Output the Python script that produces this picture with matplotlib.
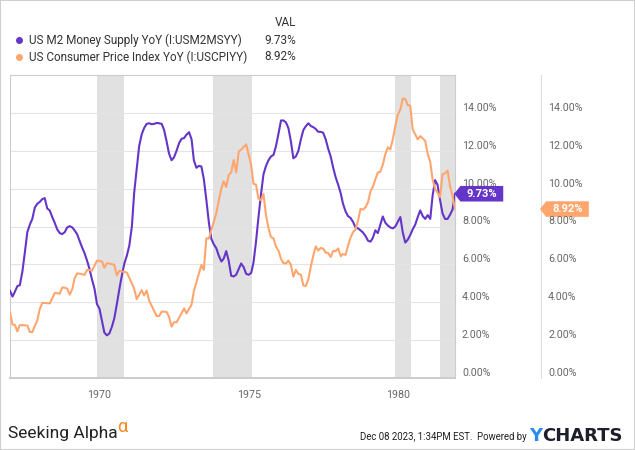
import matplotlib
matplotlib.use('Agg')
import matplotlib.pyplot as plt
import matplotlib.dates as mdates
from matplotlib.path import Path
from matplotlib.lines import Line2D
from matplotlib.patches import Rectangle
import pandas as pd

# monthly data, Jan 1967 .. Dec 1981
months = pd.date_range('1967-01-01', '1981-12-01', freq='MS')

m2_yoy = [
    4.6, 4.3, 4.55, 4.85, 4.9, 5.6, 6.6, 7.7, 8.1, 8.4, 9.0, 9.2,            # 1967
    9.3, 9.45, 9.5, 8.95, 8.85, 8.5, 8.2, 7.85, 7.65, 7.6, 7.7, 7.95,        # 1968
    8.02, 7.95, 7.8, 7.6, 7.25, 6.9, 6.6, 6.2, 5.75, 5.2, 4.7, 3.9,          # 1969
    3.65, 3.0, 2.4, 2.25, 2.35, 2.7, 3.15, 3.9, 4.7, 5.4, 6.05, 6.45,        # 1970
    7.0, 8.0, 9.77, 11.0, 12.24, 12.86, 13.2, 13.42, 13.45, 13.4, 13.42, 13.47,  # 1971
    13.45, 13.42, 13.1, 12.5, 11.85, 11.5, 11.65, 12.0, 12.4, 12.63, 12.67, 12.85,  # 1972
    12.98, 12.6, 11.5, 11.1, 11.2, 11.17, 10.5, 9.4, 8.2, 7.35, 7.05, 6.85,  # 1973
    6.45, 6.15, 6.3, 6.7, 6.2, 5.4, 5.36, 5.45, 5.75, 6.05, 5.85, 5.5,       # 1974
    5.45, 5.55, 6.1, 7.2, 8.5, 9.7, 10.75, 11.2, 11.5, 11.7, 11.78, 12.24,   # 1975
    12.9, 13.6, 13.6, 13.5, 13.2, 12.5, 11.6, 11.7, 12.0, 12.6, 13.1, 13.3,  # 1976
    13.45, 13.3, 13.25, 13.15, 13.0, 13.0, 12.95, 12.6, 12.1, 11.7, 11.1, 10.6,  # 1977
    10.2, 9.75, 9.2, 8.8, 8.55, 8.45, 8.25, 7.95, 7.9, 7.8, 7.68, 7.5,       # 1978
    7.25, 7.2, 7.4, 7.8, 7.65, 8.1, 8.53, 8.2, 8.05, 7.95, 7.9, 8.0,         # 1979
    8.25, 8.5, 7.7, 7.15, 7.3, 7.55, 7.85, 8.1, 8.5, 8.85, 8.55, 8.4,        # 1980
    8.6, 8.4, 9.6, 10.45, 10.2, 9.4, 8.7, 8.4, 8.4, 8.62, 8.9, 9.73,         # 1981
]

cpi_yoy = [
    3.46, 2.81, 2.81, 2.46, 2.79, 2.79, 2.78, 2.77, 2.43, 2.42, 2.75, 3.04,  # 1967
    3.65, 3.97, 3.96, 3.95, 3.94, 4.20, 4.49, 4.48, 4.45, 4.78, 4.77, 4.72,  # 1968
    4.40, 4.68, 5.25, 5.52, 5.51, 5.48, 5.44, 5.71, 5.70, 5.67, 5.93, 6.20,  # 1969
    6.18, 6.15, 5.82, 6.06, 6.04, 6.01, 5.98, 5.41, 5.66, 5.63, 5.60, 5.57,  # 1970
    5.29, 5.00, 4.71, 4.16, 4.40, 4.64, 4.36, 4.62, 4.08, 3.81, 3.54, 3.27,  # 1971
    3.27, 3.51, 3.50, 3.49, 3.23, 2.71, 2.95, 2.94, 3.19, 3.42, 3.67, 3.41,  # 1972
    3.65, 3.87, 4.59, 5.06, 5.53, 5.97, 5.71, 7.38, 7.36, 7.80, 8.25, 8.71,  # 1973
    9.39, 10.02, 10.39, 10.09, 10.71, 10.86, 11.51, 10.86, 11.95, 12.06, 12.20, 12.34,  # 1974
    11.80, 11.23, 10.25, 10.21, 9.47, 9.39, 9.72, 8.60, 7.91, 7.44, 7.38, 6.94,  # 1975
    6.72, 6.29, 6.07, 6.05, 6.20, 5.97, 5.35, 5.71, 5.49, 5.46, 4.88, 4.86,  # 1976
    5.22, 5.91, 6.44, 6.95, 6.73, 6.87, 6.83, 6.62, 6.60, 6.39, 6.72, 6.70,  # 1977
    6.84, 6.43, 6.55, 6.50, 6.97, 7.41, 7.70, 7.84, 8.31, 8.93, 8.89, 9.02,  # 1978
    9.28, 9.86, 10.09, 10.49, 10.85, 10.89, 11.26, 11.82, 12.18, 12.07, 12.61, 13.29,  # 1979
    13.91, 14.18, 14.76, 14.73, 14.41, 14.38, 13.13, 12.87, 12.60, 12.77, 12.65, 12.52,  # 1980
    11.83, 11.41, 10.49, 10.00, 9.78, 9.55, 10.76, 10.80, 10.95, 10.14, 9.59, 8.92,  # 1981
]

recessions = [('1969-12-01', '1970-11-01'), ('1973-10-16', '1975-02-16'),
              ('1979-12-01', '1980-06-06'), ('1981-06-01', '1981-12-01')]

names = ['US M2 Money Supply YoY (I:USM2MSYY)', 'US Consumer Price Index YoY (I:USCPIYY)']
last_vals = [9.73, 8.92]
yticks = [0, 2, 4, 6, 8, 10, 12, 14]

PURPLE = '#6535c9'
ORANGE = '#ffa66e'
W, H = 635, 450

plt.rcParams['font.family'] = ['Roboto', 'DejaVu Sans']

fig = plt.figure(figsize=(W / 100, H / 100), dpi=100)


def px(x, y):
    return x / W, 1 - y / H


ax = fig.add_axes([10 / W, 72 / H, 445 / W, 303 / H])
ax2 = ax.twinx()

for s in ax.spines.values():
    s.set_color('#cccccc')
    s.set_linewidth(0.8)
ax.spines['bottom'].set_linewidth(1.4)

for a, b in recessions:
    ax.axvspan(pd.Timestamp(a), pd.Timestamp(b), color='#e1e1e1', lw=0, zorder=0)

ax.plot(months, m2_yoy, color=PURPLE, lw=1.5, zorder=3)
ax.plot(months, cpi_yoy, color=ORANGE, lw=1.5, zorder=3)

ax.set_xlim(months[0], months[-1])
ax.set_ylim(0, 16)
ax.xaxis.set_major_locator(mdates.YearLocator(5))
ax.xaxis.set_major_formatter(mdates.DateFormatter('%Y'))
ax.tick_params(axis='x', length=0, pad=9, labelsize=7.7, labelcolor='#666666')

ytl = [f'{v:.2f}%' for v in yticks]
ax.set_yticks(yticks)
ax.set_yticklabels(ytl)
ax.yaxis.tick_right()
ax.tick_params(axis='y', length=0, pad=5, labelsize=7.7, labelcolor='#666666',
               left=False, labelleft=False, right=False, labelright=True)
ax.grid(axis='y', color='#e4e4e4', lw=0.8, zorder=1)
ax.set_axisbelow(True)

ax2.set_ylim(0, 16)
ax2.set_yticks(yticks)
ax2.set_yticklabels(ytl)
ax2.tick_params(axis='y', length=0, pad=67, labelsize=7.7, labelcolor='#666666')
for s in ax2.spines.values():
    s.set_visible(False)

for lab in ax.get_yticklabels() + ax2.get_yticklabels():
    lab.set_va('bottom')

# separator between the two value columns
sep_x = (540.7 - 10) / 445
ax.plot([sep_x, sep_x], [0, 16], transform=ax.get_yaxis_transform(),
        clip_on=False, color='#dddddd', lw=0.8)


def tag_box(x0, y0, width, height, mutation_size):
    padx = 0.55 * mutation_size
    cy = y0 + height / 2
    hh = 0.7 * mutation_size
    tip = 0.55 * mutation_size
    l, r = x0 - padx, x0 + width + padx
    return Path([(l - tip, cy), (l, cy - hh), (r, cy - hh), (r, cy + hh),
                 (l, cy + hh), (l - tip, cy)], closed=True)


for xpos, val, col in [(1.0, last_vals[0], PURPLE), (sep_x, last_vals[1], ORANGE)]:
    ax.annotate(f'{val:.2f}%', xy=(xpos, val), xycoords=ax.get_yaxis_transform(),
                xytext=(11.5, 0), textcoords='offset pixels', ha='left', va='center',
                fontsize=8, fontweight='bold', color='white', annotation_clip=False,
                bbox=dict(boxstyle=tag_box, fc=col, ec='none'), zorder=5)

# legend
fig.text(*px(296, 22.5), 'VAL', ha='right', va='center', fontsize=8.5, color='#333333')
for i, (name, val, col) in enumerate(zip(names, last_vals, [PURPLE, ORANGE])):
    y = 40 + i * 17
    fig.add_artist(Line2D([px(19, y)[0]], [px(19, y)[1]], marker='o', ms=4,
                          color=col, transform=fig.transFigure))
    fig.text(*px(29, y), name, ha='left', va='center', fontsize=8.5, color='#333333')
    fig.text(*px(296, y), f'{val:.2f}%', ha='right', va='center', fontsize=8.5,
             color='#333333')

# footer
sa = fig.text(*px(8, 438), 'Seeking Alpha', ha='left', va='baseline', fontsize=12.5,
              color='#222222')
fig.add_artist(matplotlib.text.Annotation('\u03b1', xy=(1.0, 0.62), xycoords=sa,
                                          ha='left', va='baseline', fontsize=13,
                                          color='#f58a1f'))
fig.text(*px(527, 440), 'Dec 08 2023, 1:34PM EST.  Powered by', ha='right',
         va='baseline', fontsize=6.9, color='#222222')
yt = fig.text(*px(529, 441), 'Y', ha='left', va='baseline', fontsize=13,
              fontweight='bold', color='#2a8cf0', family='DejaVu Sans')
fig.add_artist(matplotlib.text.Annotation('CHARTS', xy=(1.0, 0), xycoords=yt,
                                          ha='left', va='bottom', fontsize=13,
                                          fontweight='bold', color='#1d1d2b',
                                          family='DejaVu Sans'))

fig.add_artist(Rectangle((0, 0), 1, 1, transform=fig.transFigure, fill=False,
                         ec='#cfcfcf', lw=1.5))

fig.savefig('out.png', dpi=100)
